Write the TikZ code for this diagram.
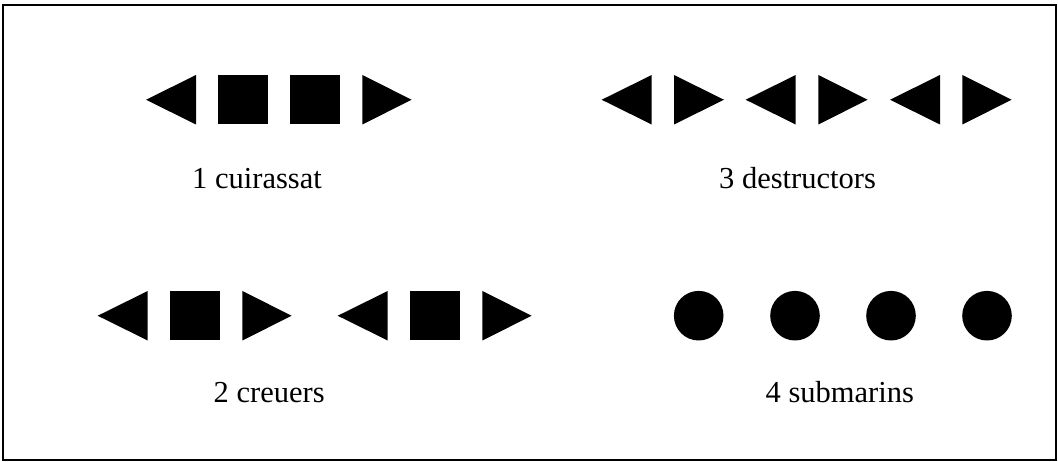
\documentclass[tikz,border=0pt]{standalone}
\usepackage{fontspec}
\setmainfont{Liberation Serif}
\begin{document}
\begin{tikzpicture}[x=1pt,y=-1pt,
  shp/.style={fill=black},
  lbl/.style={anchor=base west,inner sep=0pt,font=\fontsize{30.5}{36}\selectfont},
  frame/.style={draw=black,line width=2.5pt}]
\useasboundingbox (0,0) rectangle (1058,462);
\draw[frame] (3,5) rectangle (1056,460);
% helpers: left triangle tip x, base x, top y, bottom y
\newcommand{\ltri}[4]{\fill[shp] (#1,{(#3+#4)/2}) -- (#2,#3) -- (#2,#4) -- cycle;}
\newcommand{\rtri}[4]{\fill[shp] (#1,#3) -- (#2,{(#3+#4)/2}) -- (#1,#4) -- cycle;}
\newcommand{\sqr}[4]{\fill[shp] (#1,#3) rectangle (#2,#4);}
% 1 cuirassat
\ltri{146}{196}{75}{124.5}
\sqr{217.7}{268}{75}{124.5}
\sqr{290}{340}{75}{124.5}
\rtri{362.3}{411.7}{75}{124.5}
\node[lbl] (t1) at (192,188.3) {1 cuirassat};
% 3 destructors
\ltri{601.7}{651.7}{75}{124.5}
\rtri{674}{724}{75}{124.5}
\ltri{745.7}{795.7}{75}{124.5}
\rtri{818.3}{867.7}{75}{124.5}
\ltri{890}{940}{75}{124.5}
\rtri{962.3}{1011.7}{75}{124.5}
\node[lbl] (t3) at (719,188.3) {3 destructors};
% 2 creuers
\ltri{97.7}{147.7}{291}{340.5}
\sqr{170}{220}{291}{340.5}
\rtri{242.3}{291.7}{291}{340.5}
\ltri{337.7}{387.7}{291}{340.5}
\sqr{410}{460}{291}{340.5}
\rtri{482.3}{531.7}{291}{340.5}
\node[lbl] (t2) at (213.5,402.7) {2 creuers};
% 4 submarins
\foreach \cx in {698.7,795,891,987}{\fill[shp] (\cx,315.7) circle (24.8);}
\node[lbl] (t4) at (765.5,402.7) {4 submarins};
\end{tikzpicture}
\end{document}
